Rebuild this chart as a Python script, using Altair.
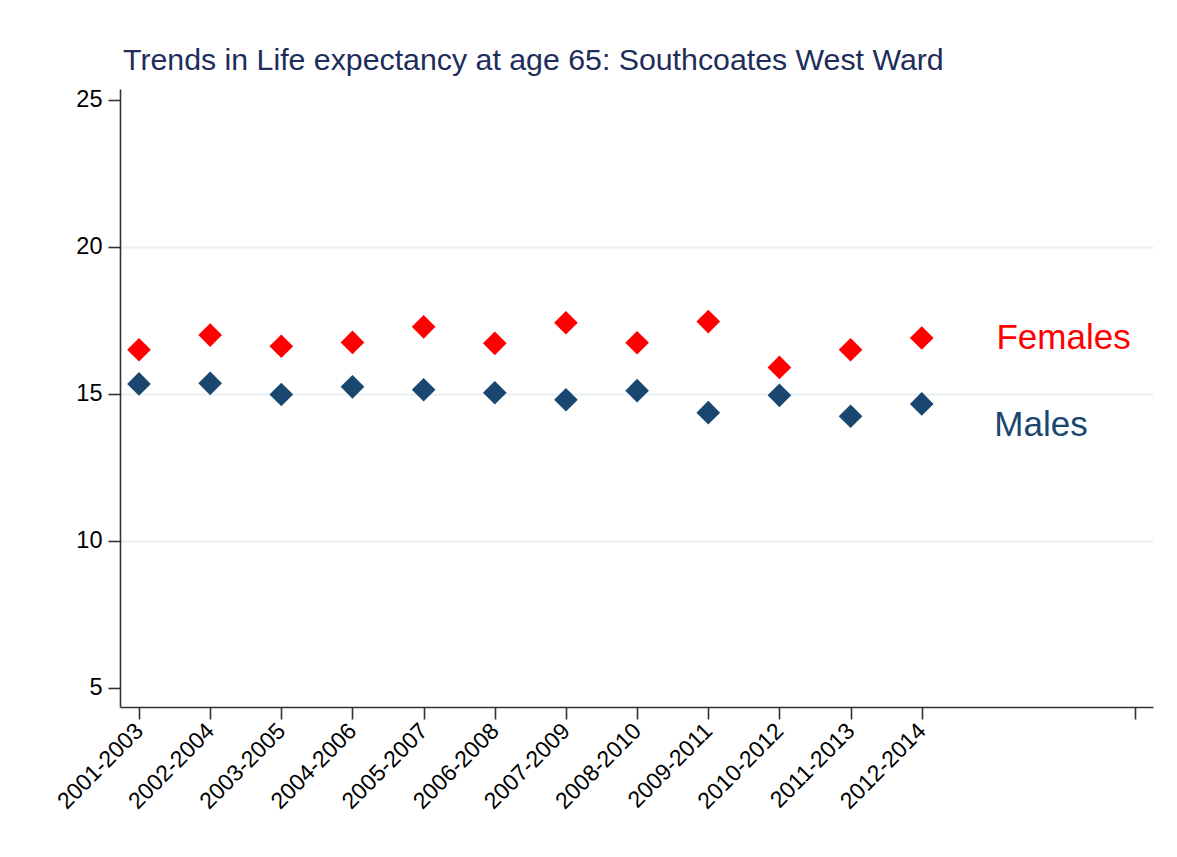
import altair as alt
import pandas as pd

periods = ["2001-2003", "2002-2004", "2003-2005", "2004-2006", "2005-2007", "2006-2008",
           "2007-2009", "2008-2010", "2009-2011", "2010-2012", "2011-2013", "2012-2014"]
females = [16.50, 17.00, 16.62, 16.75, 17.28, 16.72, 17.42, 16.74, 17.46, 15.90, 16.50, 16.90]
males = [15.34, 15.36, 14.98, 15.24, 15.14, 15.04, 14.80, 15.11, 14.36, 14.95, 14.24, 14.66]

series_names = ["Females", "Males"]
series_colors = ["#ff0000", "#1a476f"]
label_x = [13.05, 13.02]
label_y = [16.90, 13.95]

x_ticks = list(range(1, len(periods) + 1)) + [15]

rows = []
for i, p in enumerate(periods):
    rows.append({"idx": i + 1, "period": p, "sex": "Females", "value": females[i]})
    rows.append({"idx": i + 1, "period": p, "sex": "Males", "value": males[i]})
df = pd.DataFrame(rows)

labels_df = pd.DataFrame({"sex": series_names, "lx": label_x, "ly": label_y})

label_expr = "{" + ",".join(f"'{i+1}':'{p}'" for i, p in enumerate(periods)) + "}[datum.value] || ''"

FONT = "Liberation Sans"

xscale = alt.Scale(domain=[0.733, 15.25], nice=False, zero=False)
yscale = alt.Scale(domain=[4.35, 25.37], nice=False, zero=False)
color = alt.Color("sex:N", scale=alt.Scale(domain=series_names, range=series_colors), legend=None)

points = alt.Chart(df).mark_point(shape="diamond", filled=True, size=560, opacity=1).encode(
    x=alt.X("idx:Q", scale=xscale, title=None,
            axis=alt.Axis(values=x_ticks, labelExpr=label_expr, labelAngle=-45,
                          labelAlign="right", labelBaseline="middle", grid=False,
                          labelOverlap=False, labelBound=False, labelFlush=False,
                          tickSize=12, labelPadding=8, labelFontSize=23,
                          domainColor="#333333", tickColor="#333333", domainWidth=1.6,
                          tickWidth=1.6, labelColor="#000000", labelFont=FONT)),
    y=alt.Y("value:Q", scale=yscale, title=None,
            axis=alt.Axis(values=[5, 10, 15, 20, 25], grid=True, labelOverlap=False,
                          gridColor={"condition": {"test": "datum.value == 5 || datum.value == 25",
                                                   "value": "transparent"},
                                     "value": "#e8f0f2"},
                          gridWidth=2, tickSize=12, labelPadding=6, labelFontSize=23.5,
                          domainColor="#333333", tickColor="#333333", domainWidth=1.6,
                          tickWidth=1.6, labelColor="#000000", labelFont=FONT)),
    color=color,
)

texts = alt.Chart(labels_df).mark_text(align="left", baseline="middle", fontSize=35, font=FONT).encode(
    x=alt.X("lx:Q", scale=xscale),
    y=alt.Y("ly:Q", scale=yscale),
    text="sex:N",
    color=color,
)

chart = alt.layer(points, texts).properties(
    width=1033, height=618,
    title=alt.TitleParams("Trends in Life expectancy at age 65: Southcoates West Ward",
                          anchor="start", frame="group", fontSize=30.3, fontWeight="normal",
                          color="#1e2d5a", font=FONT, offset=12, dx=3),
    autosize=alt.AutoSizeParams(type="none"),
    padding={"left": 112, "top": 81, "right": 16, "bottom": 142},
).configure(background="white").configure_view(stroke=None)

chart.save("out.html", embed_options={"renderer": "svg", "actions": False})
